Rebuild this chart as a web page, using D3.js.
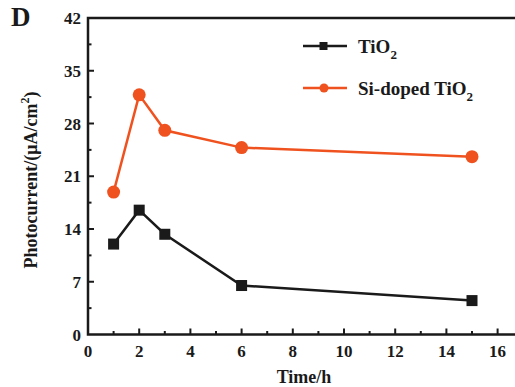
<!DOCTYPE html>
<html>
<head>
<meta charset="utf-8">
<script src="https://cdn.jsdelivr.net/npm/d3@7"></script>
<style>
  html, body { margin: 0; padding: 0; background: #fff; }
  svg { display: block; }
  text { font-family: "Liberation Serif", "Times New Roman", serif; font-weight: bold; fill: #1a1a1a; }
</style>
</head>
<body>
<svg id="chart" width="515" height="387"></svg>
<script>
// Photocurrent vs. annealing time
const times = [1, 2, 3, 6, 15];
const tio2 = [12.0, 16.5, 13.3, 6.5, 4.5];
const siDoped = [18.9, 31.8, 27.1, 24.8, 23.6];
const xTicks = [0, 2, 4, 6, 8, 10, 12, 14, 16];
const yTicks = [0, 7, 14, 21, 28, 35, 42];
const seriesNames = ["TiO", "Si-doped TiO"];

const svg = d3.select("#chart");
const plotL = 88, plotR = 497.6, plotT = 18, plotB = 334.5;
const x = d3.scaleLinear().domain([0, 16]).range([plotL, plotR]);
const y = d3.scaleLinear().domain([0, 42]).range([plotB, plotT]);
const ink = "#1a1a1a", orange = "#f0521f";

// frame: left axis plus top/bottom lines running to the edge
svg.append("path")
  .attr("d", `M515,${plotT}H${plotL}V${plotB}H515`)
  .attr("fill", "none").attr("stroke", ink).attr("stroke-width", 2.5);

// x ticks (inward), major every 2 and minor every 1
const xAxis = svg.append("g");
d3.range(1, 17, 1).forEach(v => {
  const major = v % 2 === 0;
  xAxis.append("line")
    .attr("x1", x(v)).attr("x2", x(v))
    .attr("y1", plotB).attr("y2", plotB - (major ? 6 : 3.5))
    .attr("stroke", ink).attr("stroke-width", 2);
});
xAxis.selectAll("text.xt").data(xTicks).join("text")
  .attr("class", "xt")
  .attr("x", d => x(d)).attr("y", 357)
  .attr("text-anchor", "middle").attr("font-size", 17)
  .text(d => d);

// y ticks (inward), major every 7 and minor every 3.5
const yAxis = svg.append("g");
d3.range(3.5, 42, 3.5).forEach(v => {
  const major = v % 7 === 0;
  yAxis.append("line")
    .attr("x1", plotL).attr("x2", plotL + (major ? 6 : 3.5))
    .attr("y1", y(v)).attr("y2", y(v))
    .attr("stroke", ink).attr("stroke-width", 2);
});
yAxis.selectAll("text.yt").data(yTicks).join("text")
  .attr("class", "yt")
  .attr("x", 81).attr("y", d => y(d) + 6)
  .attr("text-anchor", "end").attr("font-size", 17)
  .text(d => d);

// axis titles
svg.append("text")
  .attr("x", 304).attr("y", 383)
  .attr("text-anchor", "middle").attr("font-size", 18)
  .text("Time/h");

const yt = svg.append("text")
  .attr("transform", "translate(37,180) rotate(-90)")
  .attr("text-anchor", "middle").attr("font-size", 18);
yt.append("tspan").text("Photocurrent/(μA/cm");
yt.append("tspan").attr("font-size", 12).attr("dy", -8).text("2");
yt.append("tspan").attr("dy", 8).text(")");

// panel letter
svg.append("text").attr("x", 11).attr("y", 26).attr("font-size", 27).text("D");

// series
const line = d3.line().x((d, i) => x(times[i])).y(d => y(d));
svg.append("path").datum(tio2).attr("d", line)
  .attr("fill", "none").attr("stroke", ink).attr("stroke-width", 2.5);
svg.append("path").datum(siDoped).attr("d", line)
  .attr("fill", "none").attr("stroke", orange).attr("stroke-width", 2.5);

const sq = 11;
svg.selectAll("rect.m").data(tio2).join("rect")
  .attr("class", "m")
  .attr("x", (d, i) => x(times[i]) - sq / 2).attr("y", d => y(d) - sq / 2)
  .attr("width", sq).attr("height", sq).attr("fill", ink);
svg.selectAll("circle.m").data(siDoped).join("circle")
  .attr("class", "m")
  .attr("cx", (d, i) => x(times[i])).attr("cy", d => y(d))
  .attr("r", 6.5).attr("fill", orange);

// legend
const lg = svg.append("g");
[[46, ink, "sq"], [88, orange, "ci"]].forEach(([ly, c, m], k) => {
  lg.append("line").attr("x1", 303).attr("x2", 347).attr("y1", ly).attr("y2", ly)
    .attr("stroke", c).attr("stroke-width", 2.5);
  if (m === "sq") {
    lg.append("rect").attr("x", 319.5).attr("y", ly - 4).attr("width", 8).attr("height", 8).attr("fill", c);
  } else {
    lg.append("circle").attr("cx", 324).attr("cy", ly).attr("r", 4.5).attr("fill", c);
  }
  const t = lg.append("text").attr("x", 358).attr("y", ly + 7).attr("font-size", 19);
  t.append("tspan").text(seriesNames[k]);
  t.append("tspan").attr("font-size", 13).attr("dy", 6).text("2");
});
</script>
</body>
</html>
